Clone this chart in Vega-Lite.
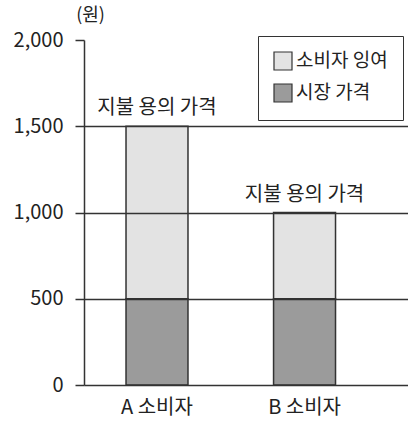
{
  "$schema": "https://vega.github.io/schema/vega-lite/v6.json",
  "width": 324,
  "height": 345,
  "autosize": {"type": "none"},
  "padding": {"left": 84, "top": 40, "right": 0, "bottom": 40},
  "background": "white",
  "config": {
    "view": {"stroke": null},
    "font": "Noto Sans CJK KR",
    "axis": {"labelFont": "Noto Sans CJK KR", "titleFont": "Noto Sans CJK KR"},
    "legend": {"labelFont": "Noto Sans CJK KR"}
  },
  "data": {
    "values": [
      {"consumer": "A 소비자", "type": "시장 가격", "value": 500},
      {"consumer": "A 소비자", "type": "소비자 잉여", "value": 1000},
      {"consumer": "B 소비자", "type": "시장 가격", "value": 500},
      {"consumer": "B 소비자", "type": "소비자 잉여", "value": 500}
    ]
  },
  "encoding": {
    "x": {
      "field": "consumer",
      "type": "nominal",
      "scale": {"paddingInner": 0.58, "paddingOuter": 0.388, "align": 0.367},
      "axis": {
        "title": null,
        "labelAngle": 0,
        "labelFontSize": 20,
        "labelColor": "#222",
        "ticks": false,
        "tickSize": 0,
        "labelPadding": 12,
        "domainColor": "#333",
        "domainWidth": 1.5,
        "zindex": 1
      }
    }
  },
  "layer": [
    {
      "mark": {"type": "bar", "stroke": "#333", "strokeWidth": 1.5},
      "encoding": {
        "y": {
          "field": "value",
          "type": "quantitative",
          "stack": "zero",
          "scale": {"domain": [0, 2000], "nice": false},
          "axis": {
            "title": "(원)",
            "titleAngle": 0,
            "titleX": 6,
            "titleY": -25,
            "titleAlign": "center",
            "titleBaseline": "middle",
            "titleFontSize": 18,
            "titleFontWeight": "normal",
            "titleColor": "#222",
            "values": [0, 500, 1000, 1500, 2000],
            "format": ",d",
            "labelFontSize": 20,
            "labelColor": "#222",
            "labelPadding": 12,
            "tickSize": 9,
            "tickColor": "#333",
            "tickWidth": 1.5,
            "domainColor": "#333",
            "domainWidth": 1.5,
            "grid": true,
            "gridColor": "#333",
            "gridWidth": 1.3,
            "gridOpacity": {"condition": {"test": "datum.value >= 2000 || datum.value <= 0", "value": 0}, "value": 1},
            "zindex": 1
          }
        },
        "color": {
          "field": "type",
          "type": "nominal",
          "scale": {"domain": ["소비자 잉여", "시장 가격"], "range": ["#e3e3e3", "#9b9b9b"]},
          "legend": {
            "title": null,
            "orient": "none",
            "legendX": 174,
            "legendY": -4,
            "symbolType": "square",
            "symbolSize": 324,
            "symbolStrokeColor": "#333",
            "symbolStrokeWidth": 1.2,
            "symbolOpacity": 1,
            "labelFontSize": 19,
            "labelColor": "#222",
            "labelOffset": 3,
            "rowPadding": 8,
            "padding": 15,
            "strokeColor": "#333",
            "fillColor": "white",
            "cornerRadius": 0
          }
        },
        "order": {"field": "type", "sort": "descending"}
      }
    },
    {
      "transform": [{"aggregate": [{"op": "sum", "field": "value", "as": "total"}], "groupby": ["consumer"]}],
      "mark": {"type": "text", "baseline": "bottom", "dy": -8, "fontSize": 20, "color": "#222", "text": "지불 용의 가격"},
      "encoding": {
        "y": {"field": "total", "type": "quantitative"}
      }
    }
  ]
}
